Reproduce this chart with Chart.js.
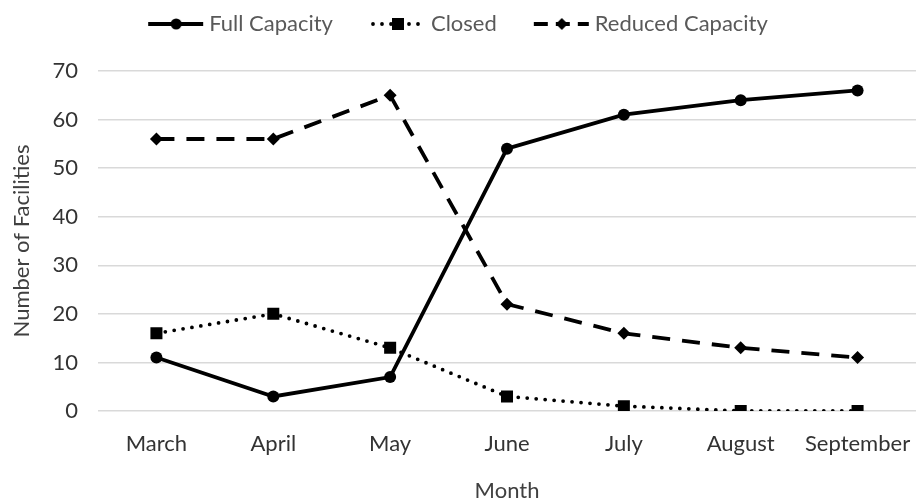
<!DOCTYPE html>
<html>
<head>
<meta charset="utf-8">
<script src="https://cdn.jsdelivr.net/npm/chart.js@4"></script>
<style>
  html, body { margin: 0; padding: 0; background: #fff; }
  #wrap { width: 916px; height: 504px; }
</style>
</head>
<body>
<div id="wrap"><canvas id="grafico" width="916" height="504"></canvas></div>
<script>
const meses = ["March", "April", "May", "June", "July", "August", "September"];
const fullCapacity = [11, 3, 7, 54, 61, 64, 66];
const closed = [16, 20, 13, 3, 1, 0, 0];
const reducedCapacity = [56, 56, 65, 22, 16, 13, 11];
const yTicks = [0, 10, 20, 30, 40, 50, 60, 70];

const fonte = "Lato, 'Liberation Sans', sans-serif";
const tam = 22;

// amostra da legenda: linha + marcador (6px transparentes à esquerda)
function amostra(dash, cap, estilo) {
  const c = document.createElement("canvas");
  c.width = 62; c.height = 16;
  const ctx = c.getContext("2d");
  ctx.translate(6, 0);
  ctx.strokeStyle = "#000";
  ctx.fillStyle = "#000";
  ctx.lineWidth = 3.8;
  ctx.lineCap = cap;
  ctx.setLineDash(dash);
  ctx.beginPath();
  ctx.moveTo(cap === "round" ? 3 : 0, 8);
  ctx.lineTo(cap === "round" ? 53 : 55, 8);
  ctx.stroke();
  ctx.setLineDash([]);
  ctx.beginPath();
  if (estilo === "circle") ctx.arc(28, 8, 5.5, 0, Math.PI * 2);
  if (estilo === "rect") ctx.rect(22, 2, 12, 12);
  if (estilo === "diamond") { ctx.moveTo(22, 8); ctx.lineTo(28, 2); ctx.lineTo(34, 8); ctx.lineTo(28, 14); ctx.closePath(); }
  ctx.fill();
  return c;
}

const series = [
  { label: "Full Capacity", data: fullCapacity, borderDash: [], cap: "butt", pointStyle: "circle", pointRadius: 6, img: amostra([], "butt", "circle") },
  { label: "Closed", data: closed, borderDash: [0, 9], cap: "round", pointStyle: "rect", pointRadius: 8.5, img: amostra([0, 9], "round", "rect") },
  { label: "Reduced Capacity", data: reducedCapacity, borderDash: [18, 12], cap: "butt", pointStyle: "rectRot", pointRadius: 6.5, img: amostra([14, 8], "butt", "diamond") }
];

// altura fixa da legenda; área do gráfico até a borda direita
const ajusteLayout = {
  id: "ajusteLayout",
  beforeInit(chart) {
    const fit = chart.legend.fit;
    chart.legend.fit = function () {
      fit.call(this);
      this.height = 95;
    };
  },
  afterLayout(chart) {
    const area = chart.chartArea;
    const x = chart.scales.x;
    area.left = 98;
    area.right = chart.width;
    area.width = area.right - area.left;
    x.left = area.left;
    x.right = area.right;
    x.width = area.width;
    x.configure();
  }
};

new Chart(document.getElementById("grafico"), {
  type: "line",
  data: {
    labels: meses,
    datasets: series.map(s => ({
      label: s.label,
      data: s.data,
      borderColor: "#000",
      backgroundColor: "#000",
      borderWidth: 3.8,
      borderDash: s.borderDash,
      borderCapStyle: s.cap,
      pointStyle: s.pointStyle,
      pointRadius: s.pointRadius,
      pointBorderWidth: 0,
      pointBackgroundColor: "#000",
      tension: 0,
      legendImg: s.img
    }))
  },
  plugins: [ajusteLayout],
  options: {
    responsive: false,
    animation: false,
    layout: { autoPadding: false, padding: { top: -24, left: 0, right: 0, bottom: 0 } },
    plugins: {
      tooltip: { enabled: false },
      legend: {
        position: "top",
        labels: {
          usePointStyle: true,
          pointStyleWidth: 50,
          padding: 37,
          color: "#595959",
          font: { family: fonte, size: tam },
          generateLabels: chart => chart.data.datasets.map((d, i) => ({
            text: d.label,
            pointStyle: d.legendImg,
            fontColor: "#595959",
            lineWidth: 0,
            strokeStyle: "transparent",
            fillStyle: "transparent",
            datasetIndex: i
          }))
        }
      }
    },
    scales: {
      x: {
        offset: true,
        afterFit: axis => { axis.height = 93; },
        grid: { display: false },
        border: { display: false },
        ticks: { color: "#333333", font: { family: fonte, size: tam }, padding: 12, maxRotation: 0 },
        title: { display: true, text: "Month", color: "#404040", font: { family: fonte, size: tam }, padding: { top: 10, bottom: 0 } }
      },
      y: {
        min: 0,
        max: 70,
        afterBuildTicks: axis => { axis.ticks = yTicks.map(v => ({ value: v })); },
        afterFit: axis => { axis.width = 98; },
        grid: { color: "#d9d9d9", lineWidth: 1.5, drawTicks: false },
        border: { display: false },
        ticks: { color: "#333333", font: { family: fonte, size: tam }, padding: 20 },
        title: { display: true, text: "Number of Facilities", color: "#404040", font: { family: fonte, size: tam }, padding: { top: 9, bottom: 0 } }
      }
    }
  }
});
</script>
</body>
</html>
